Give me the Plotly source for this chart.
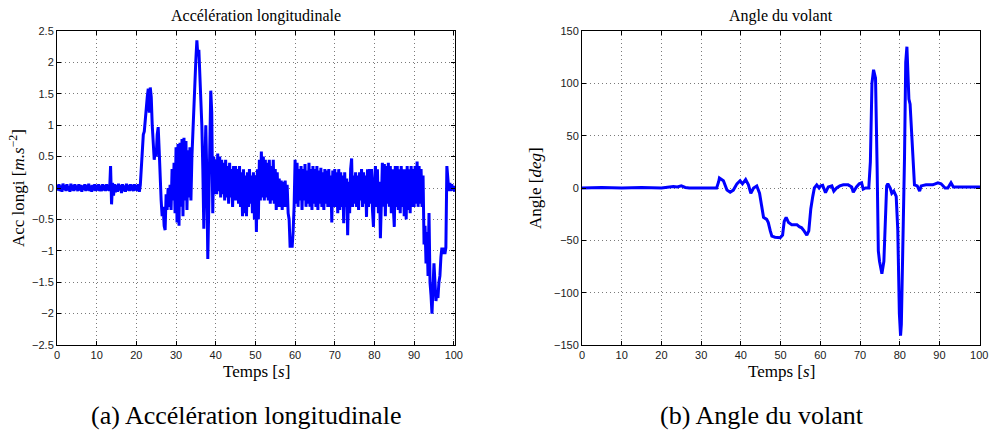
import plotly.graph_objects as go

# ---------------- data ----------------
# Left panel: longitudinal acceleration, sampled every 0.25 s (rows = 5 s)
acc_t_step = 0.25
acc_values = [
    0.05, -0.04, 0.06, -0.05, 0.04, -0.06, 0.07, -0.03, 0.05, -0.05, 0.06, -0.04, 0.03, -0.06, 0.07, -0.04, 0.05, -0.05, 0.06, -0.03,
    0.04, -0.05, 0.06, -0.04, 0.05, -0.06, 0.04, -0.03, 0.06, -0.05, 0.05, -0.04, 0.07, -0.05, 0.04, -0.06, 0.05, -0.04, 0.06, -0.05,
    0.05, -0.04, 0.06, -0.05, 0.04, -0.05, 0.06, -0.04, 0.05, -0.05, 0.06, -0.04, 0.05, -0.05, 0.35, -0.26, 0.08, -0.12, 0.06, -0.07,
    0.05, -0.06, 0.07, -0.04, 0.05, -0.08, 0.06, -0.05, 0.04, -0.06, 0.07, -0.04, 0.05, -0.05, 0.06, -0.04, 0.05, -0.05, 0.06, -0.04,
    0.05, -0.05, 0.06, -0.06, 0.05, 0.40, 0.75, 0.85, 0.90, 1.10, 1.35, 1.45, 1.58, 1.20, 1.60, 1.45, 1.00, 0.70, 0.45, 0.60,
    0.50, 0.85, 0.97, 0.60, 0.05, -0.20, -0.45, -0.30, -0.60, -0.67, -0.10, -0.35, 0.00, -0.30, 0.05, -0.35, 0.30, -0.20, 0.40, -0.40,
    0.65, -0.55, 0.70, -0.60, 0.72, -0.30, 0.78, -0.45, 0.80, -0.20, 0.75, -0.35, 0.60, -0.15, 0.65, -0.20, 0.50, 0.90, 1.50, 1.75,
    2.05, 2.35, 2.10, 2.20, 1.80, 1.50, 1.00, 0.30, -0.65, 0.30, 1.00, 0.20, -1.13, -0.30, 0.90, 1.55, 1.20, -0.40, 0.50, -0.10,
    0.45, -0.10, 0.55, -0.05, 0.50, -0.15, 0.45, -0.10, 0.40, -0.20, 0.45, -0.15, 0.35, -0.25, 0.40, -0.15, 0.30, -0.30, 0.35, -0.20,
    0.35, -0.20, 0.30, -0.25, 0.35, -0.30, 0.25, -0.45, 0.30, -0.40, 0.20, -0.45, 0.25, -0.30, 0.30, -0.25, 0.20, -0.40, 0.25, -0.50,
    0.20, -0.70, 0.30, -0.50, 0.45, -0.20, 0.58, -0.15, 0.50, -0.20, 0.45, -0.15, 0.40, -0.20, 0.45, -0.25, 0.35, -0.20, 0.45, -0.25,
    0.30, -0.35, 0.25, -0.30, 0.15, -0.30, 0.12, -0.35, 0.10, -0.30, 0.12, -0.30, 0.05, -0.40, -0.50, -0.95, -0.80, -0.95, -0.70, -0.30,
    0.45, -0.25, 0.40, -0.30, 0.30, -0.20, 0.35, -0.35, 0.30, -0.20, 0.38, -0.30, 0.28, -0.25, 0.40, -0.30, 0.30, -0.35, 0.35, -0.25,
    0.30, -0.30, 0.35, -0.35, 0.28, -0.25, 0.32, -0.30, 0.25, -0.35, 0.30, -0.25, 0.28, -0.30, 0.30, -0.30, 0.20, -0.55, 0.28, -0.30,
    0.30, -0.30, 0.25, -0.40, 0.30, -0.35, 0.25, -0.30, 0.20, -0.56, 0.25, -0.30, 0.15, -0.75, 0.10, -0.40, 0.30, 0.47, -0.30, 0.20,
    -0.25, 0.25, -0.30, 0.20, -0.35, 0.25, -0.20, 0.30, -0.30, 0.25, -0.25, 0.20, -0.46, 0.30, -0.30, 0.30, -0.25, 0.30, -0.35, -0.62,
    0.10, 0.35, -0.30, 0.30, -0.40, 0.10, -0.80, -0.20, 0.40, -0.30, 0.38, -0.45, 0.35, -0.25, 0.40, -0.30, 0.35, -0.40, 0.30, -0.30,
    -0.62, 0.35, -0.30, 0.35, -0.35, 0.30, -0.40, 0.35, -0.30, 0.30, -0.45, 0.30, -0.50, 0.35, -0.35, 0.30, -0.40, 0.35, -0.30, 0.30,
    -0.30, 0.35, -0.25, 0.42, -0.30, 0.35, -0.25, 0.30, -0.30, 0.20, -0.90, -0.60, -1.20, -0.70, -1.40, -0.40, -1.50, -1.70, -2.00, -1.60,
    -1.20, -1.50, -1.80, -1.65, -1.75, -1.50, -1.40, -1.10, -0.95, -1.05, -0.95, -1.05, -0.95, 0.35, 0.10, -0.05, 0.08, -0.05, 0.06, -0.04,
    0.03, -0.06,
]
acc_time = [i * acc_t_step for i in range(len(acc_values))]

# Right panel: steering-wheel angle (breakpoints)
ang_time = [0, 5, 10, 15, 20, 22, 23, 24, 25, 26, 27, 30, 33.9, 34.4, 34.6, 35.6, 36.5, 37.3, 38.1, 39.0, 39.8,
            40.4, 41.2, 41.9, 42.5, 43.2, 44.0, 44.7, 45.3, 45.7, 46.5, 46.9, 47.4, 47.8, 48.6, 49.9, 50.5,
            50.9, 51.4, 52.0, 52.8, 54.1, 54.7, 55.3, 55.9, 56.6, 57.1, 57.6, 58.1, 58.5, 59.1, 59.7, 60.1,
            60.6, 61.3, 62.0, 62.9, 63.4, 64.1, 64.9, 65.8, 67.0, 67.9, 68.3, 69.1, 69.8, 70.4, 70.8, 71.4,
            72.2, 72.6, 73.0, 73.4, 73.9, 74.3, 74.6, 74.9, 75.5, 76.0, 76.3, 76.7, 77.0, 77.6, 78.0, 78.5,
            79.1, 79.5, 79.9, 80.2, 80.4, 80.8, 81.2, 81.5, 81.8, 82.0, 82.3, 82.6, 83.0, 83.4, 83.7, 84.4,
            85.0, 85.4, 86.6, 88.3, 89.6, 90.4, 91.4, 92.1, 92.9, 93.5, 94.6, 100.3]
ang_values = [0, 0.5, 0, 0.5, 0, 1, 1.5, 1, 2, 0.5, 0, 0, 0, 6, 9.5, 7, -2, -4, -2, 4, 7,
              4, 8, 3, -5, 0, 2, -5, -19, -28, -30, -33, -41, -46, -47, -47.5, -45,
              -32, -28, -33, -35, -35, -37, -38, -41, -45, -41, -20, -8, 0, 3, 0, 2,
              2.5, -4.5, 1, 2, -3, 0, 2, 3, 3, 1, -4, 1, 4, 5, -1, 0,
              0, 25, 100, 113, 105, 20, -60, -70, -82, -70, -30, 2, 4, 0, -5, -3,
              -8, -40, -120, -141, -130, -60, 30, 120, 135, 115, 85, 80, 50, 15, 3, 2,
              -3, 2, 3, 3, 5, 4, 0, 0, 5, 1, 1, 1]

acc_ticks = [-2.5, -2, -1.5, -1, -0.5, 0, 0.5, 1, 1.5, 2, 2.5]
acc_ticktext = ["\u22122.5", "\u22122", "\u22121.5", "\u22121", "\u22120.5", "0", "0.5", "1", "1.5", "2", "2.5"]
ang_ticks = [-150, -100, -50, 0, 50, 100, 150]
ang_ticktext = ["\u2212150", "\u2212100", "\u221250", "0", "50", "100", "150"]
time_ticks = [0, 10, 20, 30, 40, 50, 60, 70, 80, 90, 100]

titles = ["Accélération longitudinale", "Angle du volant"]
captions = ["(a) Accélération longitudinale", "(b) Angle du volant"]
xlabel = "Temps [<i>s</i>]"
ylabels = ["Acc longi [<i>m.s</i><sup>\u22122</sup>]", "Angle [<i>deg</i>]"]

# ---------------- figure ----------------
W, H = 989, 437
SERIF = "Liberation Serif, Times New Roman, serif"
SANS = "Liberation Sans, Arial, Helvetica, sans-serif"

fig = go.Figure()
fig.add_trace(go.Scatter(x=acc_time, y=acc_values, mode="lines",
                         line=dict(color="#0000FF", width=3), xaxis="x", yaxis="y",
                         showlegend=False, hoverinfo="skip"))
fig.add_trace(go.Scatter(x=ang_time, y=ang_values, mode="lines",
                         line=dict(color="#0000FF", width=3), xaxis="x2", yaxis="y2",
                         showlegend=False, hoverinfo="skip"))

def px_x(p):
    return p / W

def px_y(p):
    return 1 - p / H

ydom = [px_y(345), px_y(31)]
common_axis = dict(showline=True, linecolor="black", linewidth=1, mirror="ticks",
                   ticks="inside", ticklen=4, tickcolor="black", automargin=False,
                   showgrid=True, gridcolor="#7a7a7a", griddash="1px,3px", gridwidth=1,
                   zeroline=False, tickfont=dict(family=SANS, size=11, color="#1a1a1a"))

fig.update_layout(
    width=W, height=H, margin=dict(l=0, r=0, t=0, b=0, autoexpand=False),
    paper_bgcolor="white", plot_bgcolor="white",
    xaxis=dict(domain=[px_x(57), px_x(455)], range=[0, 100.3], tickvals=time_ticks,
               anchor="y", **common_axis),
    yaxis=dict(domain=ydom, range=[-2.5, 2.5], tickvals=acc_ticks, ticktext=acc_ticktext,
               anchor="x", **common_axis),
    xaxis2=dict(domain=[px_x(582), px_x(980)], range=[0, 100.2], tickvals=time_ticks,
                anchor="y2", **common_axis),
    yaxis2=dict(domain=ydom, range=[-150, 150], tickvals=ang_ticks, ticktext=ang_ticktext,
                anchor="x2", **common_axis),
)

centers = [256, 781]
ylab_x = [17, 536]
ann = []
for i in range(2):
    ann.append(dict(text=titles[i], x=px_x(centers[i]), y=px_y(16), xref="paper", yref="paper",
                    showarrow=False, font=dict(family=SERIF, size=16, color="black"),
                    xanchor="center", yanchor="middle"))
    ann.append(dict(text=xlabel, x=px_x(centers[i]), y=px_y(371), xref="paper", yref="paper",
                    showarrow=False, font=dict(family=SERIF, size=17, color="black"),
                    xanchor="center", yanchor="middle"))
    ann.append(dict(text=ylabels[i], x=px_x(ylab_x[i]), y=px_y(188), xref="paper", yref="paper",
                    showarrow=False, textangle=-90, font=dict(family=SERIF, size=17, color="black"),
                    xanchor="center", yanchor="middle"))
caption_centers = [246, 762]
for i in range(2):
    ann.append(dict(text=captions[i], x=px_x(caption_centers[i]), y=px_y(415), xref="paper", yref="paper",
                    showarrow=False, font=dict(family=SERIF, size=26, color="black"),
                    xanchor="center", yanchor="middle"))
fig.update_layout(annotations=ann)

fig.write_html("out.html", config={"displayModeBar": False, "staticPlot": True},
               post_script="document.body.style.margin='0px';document.body.style.padding='0px';"
                           "document.body.style.overflow='hidden';")
